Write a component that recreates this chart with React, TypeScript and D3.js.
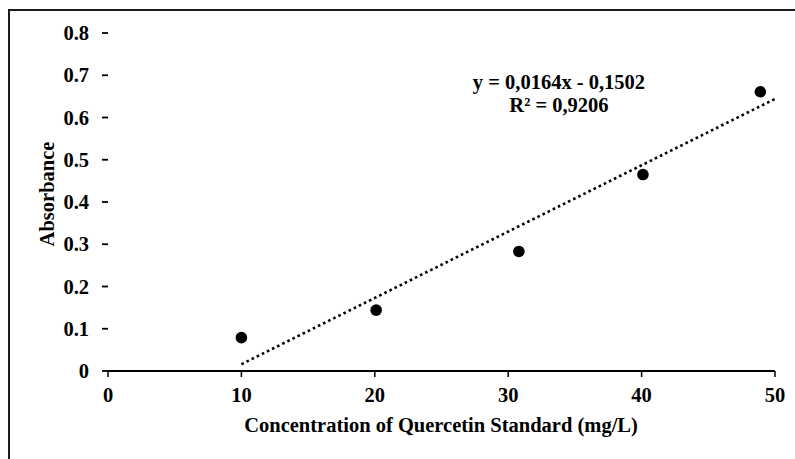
import React from "react";
import * as d3 from "d3";

// values
const concentration = [10, 20.1, 30.8, 40.1, 48.9];
const absorbance = [0.079, 0.144, 0.283, 0.465, 0.661];
const trendX = [10, 50];
const trendY = [0.016, 0.644];
const xTicks = [0, 10, 20, 30, 40, 50];
const yTicks = [0, 0.1, 0.2, 0.3, 0.4, 0.5, 0.6, 0.7, 0.8];
const equationLines = ["y = 0,0164x - 0,1502", "R² = 0,9206"];

const W = 795;
const H = 459;
const font = "'Liberation Serif', 'Times New Roman', serif";
const fs = 20.5;

export default function App() {
  const x = d3.scaleLinear().domain([0, 50]).range([108, 775]);
  const y = d3.scaleLinear().domain([0, 0.8]).range([371, 33]);

  const trend = d3
    .line<number>()
    .x((d) => x(d))
    .y((_, i) => y(trendY[i]));

  return (
    <svg
      width={W}
      height={H}
      style={{ position: "absolute", left: 0, top: 0, background: "#fff" }}
      fontFamily={font}
      fontWeight="bold"
    >
      {/* frame */}
      <path d={`M9,${H} V10 H${W}`} fill="none" stroke="#1a1a1a" strokeWidth={2} />

      {/* y ticks (no axis line) */}
      {yTicks.map((t) => (
        <g key={t}>
          <line x1={102} x2={108} y1={y(t)} y2={y(t)} stroke="#000" strokeWidth={1.8} />
          <text x={89} y={y(t)} dy="0.35em" textAnchor="end" fontSize={fs}>
            {t === 0 ? "0" : t.toFixed(1)}
          </text>
        </g>
      ))}

      {/* x axis */}
      <line x1={x(0)} x2={x(50)} y1={y(0)} y2={y(0)} stroke="#000" strokeWidth={2} />
      {xTicks.map((t) => (
        <g key={t}>
          <line x1={x(t)} x2={x(t)} y1={y(0)} y2={y(0) + 6} stroke="#000" strokeWidth={1.5} />
          <text x={x(t)} y={402} textAnchor="middle" fontSize={fs}>
            {t}
          </text>
        </g>
      ))}

      {/* trendline */}
      <path
        d={trend(trendX) || ""}
        fill="none"
        stroke="#000"
        strokeWidth={2.6}
        strokeDasharray="2.6 3.1"
      />

      {/* points */}
      {concentration.map((c, i) => (
        <circle key={i} cx={x(c)} cy={y(absorbance[i])} r={5.8} fill="#000" />
      ))}

      {/* equation */}
      {equationLines.map((s, i) => (
        <text key={s} x={559} y={89 + i * 23} textAnchor="middle" fontSize={fs}>
          {s}
        </text>
      ))}

      {/* axis titles */}
      <text x={441} y={432} textAnchor="middle" fontSize={fs}>
        Concentration of Quercetin Standard (mg/L)
      </text>
      <text
        transform={`translate(54,194) rotate(-90)`}
        textAnchor="middle"
        fontSize={fs}
      >
        Absorbance
      </text>
    </svg>
  );
}
